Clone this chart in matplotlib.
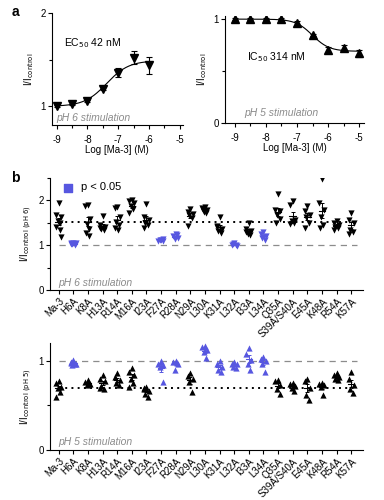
import matplotlib
matplotlib.use("Agg")
import matplotlib.pyplot as plt
import numpy as np

plt.rcParams['font.family'] = ['Liberation Sans', 'DejaVu Sans']
plt.rcParams['font.size'] = 7
plt.rcParams['axes.linewidth'] = 0.8

BLUE = '#5757e0'
GREY = '#8c8c8c'

# ---- panel a data
log_conc = [-9, -8.5, -8, -7.5, -7, -6.5, -6]
ph6_mean = [1.00, 1.02, 1.06, 1.19, 1.36, 1.52, 1.44]
ph6_sem = [0.01, 0.01, 0.01, 0.02, 0.05, 0.07, 0.09]
ec50_nM = 42
ph6_bottom, ph6_top = 1.0, 1.49

log_conc5 = [-9, -8.5, -8, -7.5, -7, -6.5, -6, -5.5, -5]
ph5_mean = [1.00, 1.00, 1.00, 1.00, 0.96, 0.85, 0.70, 0.72, 0.67]
ph5_sem = [0.01, 0.01, 0.01, 0.01, 0.02, 0.01, 0.03, 0.03, 0.03]
ic50_nM = 314
ph5_top, ph5_bottom = 1.0, 0.69

# ---- panel b data
mutants = ['Ma-3', 'H6A', 'K8A', 'H13A', 'R14A', 'M16A', 'I23A', 'F27A', 'R28A',
           'N29A', 'L30A', 'K31A', 'L32A', 'I33A', 'L34A', 'Q35A', 'S39A/S40A',
           'E45A', 'K48A', 'R54A', 'K57A']
sig_ph6 = ['H6A', 'F27A', 'R28A', 'L32A', 'L34A']
sig_ph5 = ['H6A', 'F27A', 'R28A', 'L30A', 'K31A', 'L32A', 'I33A', 'L34A']

ph6_values = [
    [1.94, 1.68, 1.62, 1.54, 1.49, 1.41, 1.34, 1.19],
    [1.04, 1.02, 1.05, 1.03, 1.01, 1.04],
    [1.90, 1.88, 1.58, 1.48, 1.36, 1.28, 1.20],
    [1.65, 1.45, 1.40, 1.37, 1.35, 1.38],
    [1.86, 1.83, 1.62, 1.52, 1.45, 1.38, 1.34],
    [2.00, 1.98, 1.94, 1.87, 1.80, 1.72],
    [1.93, 1.62, 1.56, 1.50, 1.44, 1.38],
    [1.12, 1.10, 1.13, 1.11, 1.09],
    [1.24, 1.20, 1.17, 1.14, 1.22],
    [1.80, 1.75, 1.70, 1.68, 1.60, 1.42],
    [1.86, 1.83, 1.79, 1.75, 1.72, 1.78],
    [1.62, 1.42, 1.36, 1.31, 1.28, 1.40],
    [1.04, 1.00, 0.98, 1.02, 1.01],
    [1.49, 1.36, 1.32, 1.26, 1.23, 1.30],
    [1.30, 1.24, 1.20, 1.16, 1.12],
    [2.14, 1.79, 1.76, 1.68, 1.58, 1.50],
    [1.98, 1.90, 1.56, 1.53, 1.50, 1.48],
    [1.87, 1.76, 1.68, 1.64, 1.50, 1.38],
    [2.47, 1.94, 1.78, 1.62, 1.45, 1.38],
    [1.53, 1.49, 1.45, 1.41, 1.38, 1.35],
    [1.71, 1.56, 1.49, 1.34, 1.30, 1.26],
]

ph5_values = [
    [0.77, 0.75, 0.71, 0.69, 0.65, 0.60],
    [1.01, 0.98, 0.96, 0.95, 0.97, 0.99],
    [0.78, 0.76, 0.74, 0.73, 0.75],
    [0.84, 0.80, 0.77, 0.72, 0.68, 0.70],
    [0.86, 0.82, 0.78, 0.75, 0.73],
    [0.92, 0.88, 0.84, 0.80, 0.75, 0.71],
    [0.71, 0.69, 0.66, 0.63, 0.60, 0.68],
    [1.00, 0.97, 0.95, 0.93, 0.76],
    [1.00, 0.99, 0.97, 0.90, 0.98],
    [0.86, 0.83, 0.80, 0.76, 0.65],
    [1.17, 1.15, 1.12, 1.10, 1.03],
    [1.00, 0.97, 0.93, 0.90, 0.88],
    [0.99, 0.97, 0.96, 0.93, 0.92],
    [1.14, 1.08, 1.01, 0.97, 0.90],
    [1.04, 1.02, 1.00, 0.97, 0.88],
    [0.79, 0.77, 0.73, 0.68, 0.63],
    [0.75, 0.74, 0.72, 0.70, 0.66],
    [0.80, 0.77, 0.70, 0.62, 0.56],
    [0.75, 0.74, 0.73, 0.71, 0.62],
    [0.86, 0.84, 0.82, 0.80, 0.78],
    [0.87, 0.80, 0.73, 0.68, 0.64],
]

fig = plt.figure(figsize=(3.84, 5.0), dpi=100)


def hill(x, bottom, top, logc50, slope=1.0):
    return bottom + (top - bottom) / (1 + 10 ** ((logc50 - x) * slope))


def style_axes(ax):
    for s in ['top', 'right']:
        ax.spines[s].set_visible(False)
    ax.tick_params(direction='out', length=3, width=0.8, pad=1.5)
    ax.tick_params(which='minor', direction='out', length=2, width=0.8)


# ---------------- panel a left
ax1 = fig.add_axes([0.135, 0.75, 0.341, 0.224])
xs = np.linspace(-9, -6, 200)
ax1.plot(xs, hill(xs, ph6_bottom, ph6_top, np.log10(ec50_nM * 1e-9), 1.2),
         color='black', lw=0.8)
ax1.errorbar(log_conc, ph6_mean, yerr=ph6_sem, fmt='v', color='black', ms=5.5,
             capsize=2, elinewidth=0.8, capthick=0.8)
ax1.set_xlim(-9.16, -4.9)
ax1.set_ylim(0.8, 2.0)
ax1.set_yticks([1, 2])
ax1.set_yticks([1.5], minor=True)
ax1.set_xticks([-9, -8, -7, -6, -5])
ax1.set_xticks([-8.5, -7.5, -6.5, -5.5], minor=True)
ax1.set_xticklabels(['-9', '-8', '-7', '-6', '-5'])
ax1.set_xlabel('Log [Ma-3] (M)', labelpad=0)
ax1.set_ylabel('I/I$_{\\mathrm{control}}$', labelpad=3)
ax1.text(-8.75, 1.64, 'EC$_{50}$ 42 nM', fontsize=7.5)
ax1.text(-9.0, 0.84, 'pH 6 stimulation', color=GREY, style='italic', fontsize=7.5)
style_axes(ax1)
ax1.tick_params(axis='x', pad=4)

# ---------------- panel a right
ax2 = fig.add_axes([0.586, 0.754, 0.362, 0.214])
xs = np.linspace(-9, -5, 200)
ax2.plot(xs, hill(xs, ph5_top, ph5_bottom, np.log10(ic50_nM * 1e-9), 1.6),
         color='black', lw=0.8)
ax2.errorbar(log_conc5, ph5_mean, yerr=ph5_sem, fmt='^', color='black', ms=5.5,
             capsize=2, elinewidth=0.8, capthick=0.8)
ax2.set_xlim(-9.32, -4.84)
ax2.set_ylim(0, 1.03)
ax2.set_yticks([0, 1])
ax2.set_yticks([0.5], minor=True)
ax2.set_xticks([-9, -8, -7, -6, -5])
ax2.set_xticks([-8.5, -7.5, -6.5, -5.5], minor=True)
ax2.set_xticklabels(['-9', '-8', '-7', '-6', '-5'])
ax2.set_xlabel('Log [Ma-3] (M)', labelpad=0)
ax2.set_ylabel('I/I$_{\\mathrm{control}}$', labelpad=3)
ax2.text(-8.6, 0.6, 'IC$_{50}$ 314 nM', fontsize=7.5)
ax2.text(-8.7, 0.07, 'pH 5 stimulation', color=GREY, style='italic', fontsize=7.5)
style_axes(ax2)
ax2.tick_params(axis='x', pad=4)

fig.text(0.03, 0.968, 'a', fontsize=10, fontweight='bold')
fig.text(0.03, 0.636, 'b', fontsize=10, fontweight='bold')

offsets = [0.0, -0.18, 0.16, -0.08, 0.1, -0.16, 0.06, 0.18]


def scatter_panel(ax, values, sig, marker, ref_line):
    pos = np.arange(len(mutants))
    for i, (name, vals) in enumerate(zip(mutants, values)):
        c = BLUE if name in sig else 'black'
        xj = [pos[i] + offsets[k % len(offsets)] for k in range(len(vals))]
        ax.scatter(xj, vals, marker=marker, s=20, color=c, linewidths=0, zorder=3)
        m = np.mean(vals)
        sem = np.std(vals, ddof=1) / np.sqrt(len(vals))
        ax.plot([pos[i] - 0.22, pos[i] + 0.22], [m, m], color=c, lw=0.8, zorder=2)
        ax.errorbar(pos[i], m, yerr=sem, fmt='none', ecolor=c, capsize=1.5,
                    elinewidth=0.7, capthick=0.7, zorder=2)
    ax.axhline(1.0, color=GREY, lw=0.9, ls=(0, (5, 4)), zorder=1,
               xmin=0.03, xmax=0.98)
    ax.axhline(ref_line, color='black', lw=1.4, ls=(0, (1, 2.2)), zorder=1,
               xmin=0.03, xmax=0.98)
    ax.set_xlim(-0.6, len(mutants) - 0.2)
    ax.set_xticks(pos)
    ax.set_xticklabels(mutants, rotation=45, ha='right', rotation_mode='anchor')
    style_axes(ax)


# ---------------- panel b top
ax3 = fig.add_axes([0.130, 0.42, 0.815, 0.224])
scatter_panel(ax3, ph6_values, sig_ph6, 'v', np.mean(ph6_values[0]))
ax3.set_ylim(0, 2.5)
ax3.set_yticks([0, 1, 2])
ax3.set_yticks([0.5, 1.5, 2.5], minor=True)
ax3.set_ylabel('I/I$_{\\mathrm{control\\ (pH\\ 6)}}$', labelpad=3)
ax3.text(0.0, 0.1, 'pH 6 stimulation', color=GREY, style='italic', fontsize=7.5)
ax3.scatter([], [], marker='s', s=40, color=BLUE, label='p < 0.05')
ax3.legend(loc='upper left', frameon=False, handletextpad=0.2, fontsize=8,
           borderaxespad=0.2, bbox_to_anchor=(0.0, 1.02))

# ---------------- panel b bottom
ax4 = fig.add_axes([0.130, 0.10, 0.815, 0.214])
scatter_panel(ax4, ph5_values, sig_ph5, '^', np.mean(ph5_values[0]))
ax4.set_ylim(0, 1.2)
ax4.set_yticks([0, 1])
ax4.set_yticks([0.5], minor=True)
ax4.set_ylabel('I/I$_{\\mathrm{control\\ (pH\\ 5)}}$', labelpad=3)
ax4.text(0.0, 0.06, 'pH 5 stimulation', color=GREY, style='italic', fontsize=7.5)

fig.savefig('out.png', dpi=100)
